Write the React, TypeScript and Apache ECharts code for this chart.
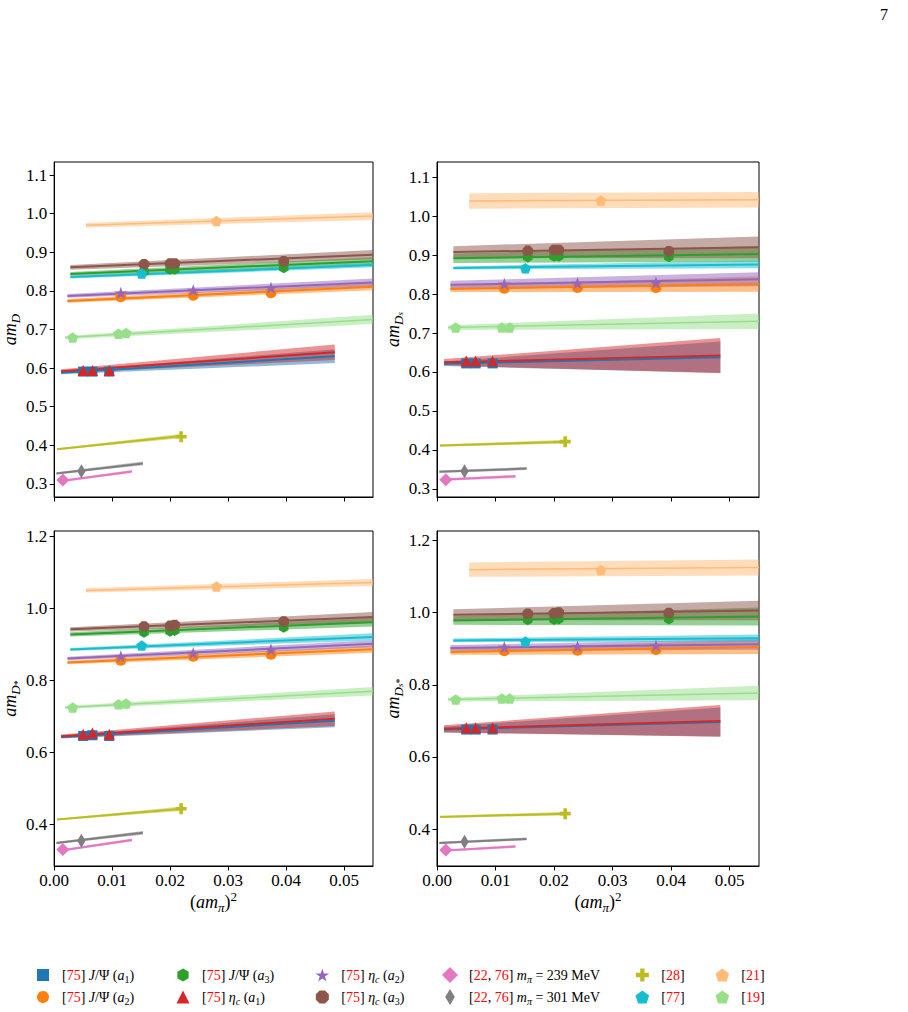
import React, { useEffect, useRef } from 'react';
import * as echarts from 'echarts';

const FONT = "'Liberation Serif', 'DejaVu Serif', serif";

// (a m_pi)^2 of the ensembles behind each data set
const X_A1 = [0.005, 0.0066, 0.0095];
const X_A2 = [0.0115, 0.024, 0.0374];
const X_A3 = [0.0155, 0.02, 0.0208, 0.0396];
const X_239 = [0.0015];
const X_301 = [0.0047];
const X_28 = [0.0219];
const X_77 = [0.0151];
const X_21 = [0.028];
const X_19 = [0.0032, 0.0111, 0.0124];

// data sets, in drawing order
const NAMES = [
  '[75] J/Ψ (a1)', '[75] J/Ψ (a2)', '[75] J/Ψ (a3)',
  '[75] ηc (a1)', '[75] ηc (a2)', '[75] ηc (a3)',
  '[22, 76] mπ = 239 MeV', '[22, 76] mπ = 301 MeV',
  '[28]', '[77]', '[21]', '[19]',
];
const LEGEND_TEXT = [
  '[{r|75}] {i|J}/Ψ ({i|a}{s|1})',
  '[{r|75}] {i|J}/Ψ ({i|a}{s|2})',
  '[{r|75}] {i|J}/Ψ ({i|a}{s|3})',
  '[{r|75}] {i|η}{si|c} ({i|a}{s|1})',
  '[{r|75}] {i|η}{si|c} ({i|a}{s|2})',
  '[{r|75}] {i|η}{si|c} ({i|a}{s|3})',
  '[{r|22}, {r|76}] {i|m}{si|π} = 239 MeV',
  '[{r|22}, {r|76}] {i|m}{si|π} = 301 MeV',
  '[{r|28}]', '[{r|77}]', '[{r|21}]', '[{r|19}]',
];
const COLORS = [
  '#1f77b4', '#ff7f0e', '#2ca02c', '#d62728', '#9467bd', '#8c564b',
  '#e377c2', '#7f7f7f', '#bcbd22', '#17becf', '#ffbb78', '#98df8a',
];
const POINT_X = [X_A1, X_A2, X_A3, X_A1, X_A2, X_A3, X_239, X_301, X_28, X_77, X_21, X_19];
// chiral-fit range in (a m_pi)^2
const FIT_RANGE = [
  [0.0012, 0.0484], [0.0023, 0.055], [0.0028, 0.055],
  [0.0012, 0.0484], [0.0023, 0.055], [0.0028, 0.055],
  [0.0015, 0.0134], [0.0004, 0.0153], [0.0005, 0.022],
  [0.0028, 0.055], [0.0055, 0.055], [0.0019, 0.055],
];

// fits: [value at start, value at end, error at start, error at end]
const MD_FIT = [
  [0.588, 0.631, 0.004, 0.018], [0.774, 0.811, 0.005, 0.009], [0.844, 0.877, 0.005, 0.01],
  [0.592, 0.641, 0.005, 0.02], [0.787, 0.822, 0.005, 0.01], [0.861, 0.894, 0.006, 0.012],
  [0.308, 0.332, 0.003, 0.004], [0.327, 0.353, 0.003, 0.005], [0.39, 0.424, 0.002, 0.006],
  [0.836, 0.867, 0.004, 0.006], [0.97, 0.994, 0.006, 0.01], [0.679, 0.726, 0.004, 0.012],
];
const MD_PTS = [
  [0.591, 0.591, 0.591], [0.785, 0.789, 0.795], [0.85, 0.856, 0.856, 0.86],
  [0.594, 0.594, 0.594], [0.795, 0.802, 0.808], [0.869, 0.871, 0.871, 0.877],
  [0.31], [0.333], [0.422], [0.845], [0.981], [0.679, 0.689, 0.691],
];

const MDS_FIT = [
  [0.621, 0.638, 0.006, 0.04], [0.813, 0.826, 0.008, 0.02], [0.892, 0.903, 0.012, 0.02],
  [0.625, 0.642, 0.008, 0.045], [0.824, 0.838, 0.01, 0.018], [0.908, 0.92, 0.015, 0.028],
  [0.324, 0.332, 0.003, 0.004], [0.344, 0.352, 0.003, 0.004], [0.411, 0.421, 0.003, 0.005],
  [0.867, 0.876, 0.004, 0.01], [1.039, 1.042, 0.02, 0.02], [0.714, 0.73, 0.006, 0.02],
];
const MDS_PTS = [
  [0.622, 0.622, 0.622], [0.815, 0.817, 0.817], [0.895, 0.897, 0.897, 0.896],
  [0.628, 0.628, 0.628], [0.826, 0.828, 0.829], [0.911, 0.913, 0.913, 0.91],
  [0.323], [0.345], [0.421], [0.866], [1.04], [0.714, 0.714, 0.714],
];

const MDST_FIT = [
  [0.643, 0.688, 0.004, 0.018], [0.85, 0.887, 0.005, 0.01], [0.928, 0.962, 0.006, 0.012],
  [0.645, 0.694, 0.005, 0.02], [0.861, 0.902, 0.005, 0.01], [0.942, 0.976, 0.006, 0.014],
  [0.329, 0.357, 0.003, 0.004], [0.349, 0.377, 0.003, 0.005], [0.414, 0.444, 0.002, 0.006],
  [0.886, 0.921, 0.004, 0.01], [1.05, 1.072, 0.006, 0.01], [0.725, 0.77, 0.004, 0.012],
];
const MDST_PTS = [
  [0.646, 0.648, 0.646], [0.856, 0.867, 0.873], [0.934, 0.937, 0.939, 0.948],
  [0.651, 0.654, 0.651], [0.867, 0.876, 0.886], [0.95, 0.952, 0.954, 0.964],
  [0.331], [0.355], [0.444], [0.897], [1.061], [0.725, 0.734, 0.736],
];

const MDSST_FIT = [
  [0.676, 0.697, 0.008, 0.04], [0.891, 0.905, 0.008, 0.02], [0.978, 0.989, 0.012, 0.025],
  [0.678, 0.7, 0.01, 0.044], [0.902, 0.912, 0.008, 0.015], [0.994, 1.006, 0.015, 0.027],
  [0.341, 0.352, 0.003, 0.004], [0.362, 0.373, 0.003, 0.004], [0.434, 0.443, 0.003, 0.005],
  [0.923, 0.929, 0.005, 0.01], [1.119, 1.125, 0.02, 0.022], [0.759, 0.777, 0.005, 0.02],
];
const MDSST_PTS = [
  [0.676, 0.676, 0.676], [0.894, 0.896, 0.898], [0.98, 0.981, 0.982, 0.982],
  [0.681, 0.681, 0.681], [0.904, 0.906, 0.908], [0.997, 0.998, 1.0, 0.999],
  [0.342], [0.365], [0.443], [0.92], [1.118], [0.759, 0.762, 0.762],
];

const X_TICKS = [0, 0.01, 0.02, 0.03, 0.04, 0.05];
const X_MAX = 0.055;
const Y_TICKS_TOP = [0.3, 0.4, 0.5, 0.6, 0.7, 0.8, 0.9, 1.0, 1.1];
const Y_TICKS_BOTTOM = [0.4, 0.6, 0.8, 1.0, 1.2];
const Y_RANGE_D = [0.266, 1.134];
const Y_RANGE_DS = [0.279, 1.139];
const Y_RANGE_DST = [0.285, 1.215];
const Y_RANGE_DSST = [0.298, 1.226];

// marker shapes
const SQUARE = 'path://M0,0L1,0L1,1L0,1Z';
const HEXAGON = 'path://M0,-1L0.866,-0.5L0.866,0.5L0,1L-0.866,0.5L-0.866,-0.5Z';
const TRIANGLE = 'path://M0,0L1,2L-1,2Z';
const STAR = 'path://M0,-1L0.2234,-0.3074L0.9511,-0.309L0.3614,0.1174L0.5878,0.809L0,0.38L-0.5878,0.809L-0.3614,0.1174L-0.9511,-0.309L-0.2234,-0.3074Z';
const OCTAGON = 'path://M0.3827,-0.9239L0.9239,-0.3827L0.9239,0.3827L0.3827,0.9239L-0.3827,0.9239L-0.9239,0.3827L-0.9239,-0.3827L-0.3827,-0.9239Z';
const DIAMOND = 'path://M0,-1L1,0L0,1L-1,0Z';
const THIN_DIAMOND = 'path://M0,-1L0.6,0L0,1L-0.6,0Z';
const PLUS = 'path://M-0.33,-1L0.33,-1L0.33,-0.33L1,-0.33L1,0.33L0.33,0.33L0.33,1L-0.33,1L-0.33,0.33L-1,0.33L-1,-0.33L-0.33,-0.33Z';
const PENTAGON = 'path://M0,-1L0.9511,-0.309L0.5878,0.809L-0.5878,0.809L-0.9511,-0.309Z';

const SYMBOLS = [SQUARE, 'circle', HEXAGON, TRIANGLE, STAR, OCTAGON, DIAMOND, THIN_DIAMOND, PLUS, PENTAGON, PENTAGON, PENTAGON];
const SIZES = [10, 11, 11, 11, 13, 10.5, 13, 14, 11, 11, 11, 11];
const LINE_W = [2, 2, 2, 2, 2, 2, 2, 2, 2, 2, 1.5, 1.5];

const LEGEND_COLUMNS = [[0, 1], [2, 3], [4, 5], [6, 7], [8, 9], [10, 11]];
// marker centres of the legend columns
const LEGEND_X = [43, 183, 322, 450, 642, 722];
const LEGEND_ICON_H = [12, 13, 13, 16, 13, 13];

const PANELS = [
  { box: [51, 162, 322, 335], yRange: Y_RANGE_D, yTicks: Y_TICKS_TOP, fit: MD_FIT, pts: MD_PTS, yName: '{a|am}{s|D}', gap: 27, xLabels: false },
  { box: [437, 162, 322, 335], yRange: Y_RANGE_DS, yTicks: Y_TICKS_TOP, fit: MDS_FIT, pts: MDS_PTS, yName: '{a|am}{s|D}{ss|s}', gap: 29, xLabels: false },
  { box: [51, 531, 322, 335], yRange: Y_RANGE_DST, yTicks: Y_TICKS_BOTTOM, fit: MDST_FIT, pts: MDST_PTS, yName: '{a|am}{s|D}{st|*}', gap: 27, xLabels: true },
  { box: [437, 531, 322, 335], yRange: Y_RANGE_DSST, yTicks: Y_TICKS_BOTTOM, fit: MDSST_FIT, pts: MDSST_PTS, yName: '{a|am}{s|D}{ss|s}{st|*}', gap: 29, xLabels: true },
];

function rgba(hex: string, a: number) {
  const n = parseInt(hex.slice(1), 16);
  return `rgba(${(n >> 16) & 255},${(n >> 8) & 255},${n & 255},${a})`;
}

const Y_NAME_RICH = {
  a: { fontFamily: FONT, fontSize: 18, fontStyle: 'italic', lineHeight: 24, color: '#000' },
  s: { fontFamily: FONT, fontSize: 13, fontStyle: 'italic', lineHeight: 13, verticalAlign: 'bottom', color: '#000' },
  ss: { fontFamily: FONT, fontSize: 9, fontStyle: 'italic', lineHeight: 7, verticalAlign: 'bottom', color: '#000' },
  st: { fontFamily: FONT, fontSize: 10, fontStyle: 'normal', lineHeight: 18, verticalAlign: 'bottom', color: '#000' },
};
const X_NAME_RICH = {
  p: { fontFamily: FONT, fontSize: 18, fontStyle: 'normal', lineHeight: 24, color: '#000' },
  a: { fontFamily: FONT, fontSize: 18, fontStyle: 'italic', lineHeight: 24, color: '#000' },
  s: { fontFamily: FONT, fontSize: 13, fontStyle: 'italic', lineHeight: 13, verticalAlign: 'bottom', color: '#000' },
  sup: { fontFamily: FONT, fontSize: 13, fontStyle: 'normal', lineHeight: 13, verticalAlign: 'top', color: '#000' },
};
const LEGEND_RICH = {
  r: { fontFamily: FONT, fontSize: 14, lineHeight: 18, color: '#ff0000' },
  i: { fontFamily: FONT, fontSize: 14, lineHeight: 18, fontStyle: 'italic', color: '#000' },
  s: { fontFamily: FONT, fontSize: 10, lineHeight: 10, verticalAlign: 'bottom', color: '#000' },
  si: { fontFamily: FONT, fontSize: 10, lineHeight: 10, verticalAlign: 'bottom', fontStyle: 'italic', color: '#000' },
};

function buildOption() {
  const grid: any[] = [];
  const xAxis: any[] = [];
  const yAxis: any[] = [];
  const series: any[] = [];

  PANELS.forEach((p, g) => {
    grid.push({
      left: p.box[0], top: p.box[1], width: p.box[2], height: p.box[3],
      show: true, borderColor: '#000', borderWidth: 1, backgroundColor: 'transparent',
    });
    xAxis.push({
      type: 'value', gridIndex: g, min: 0, max: X_MAX,
      axisLine: { show: true, onZero: false, lineStyle: { color: '#000', width: 1 } },
      axisTick: { show: true, length: 4.5, customValues: X_TICKS, lineStyle: { color: '#000', width: 1 } },
      axisLabel: {
        show: p.xLabels, customValues: X_TICKS, margin: 6,
        formatter: (v: number) => v.toFixed(2),
        color: '#000', fontFamily: FONT, fontSize: 17,
      },
      splitLine: { show: false },
      name: p.xLabels ? '{p|(}{a|am}{s|π}{p|)}{sup|2}' : '',
      nameLocation: 'middle', nameGap: 24,
      nameTextStyle: { rich: X_NAME_RICH },
    });
    yAxis.push({
      type: 'value', gridIndex: g, min: p.yRange[0], max: p.yRange[1],
      axisLine: { show: true, onZero: false, lineStyle: { color: '#000', width: 1 } },
      axisTick: { show: true, length: 4.5, customValues: p.yTicks, lineStyle: { color: '#000', width: 1 } },
      axisLabel: {
        customValues: p.yTicks, margin: 7,
        formatter: (v: number) => v.toFixed(1),
        color: '#000', fontFamily: FONT, fontSize: 17,
      },
      splitLine: { show: false },
      name: p.yName, nameLocation: 'middle', nameRotate: 90, nameGap: p.gap,
      nameTextStyle: { rich: Y_NAME_RICH },
    });

    // error bands of the fits
    series.push({
      type: 'custom', xAxisIndex: g, yAxisIndex: g, z: 1, silent: true,
      encode: { x: [0, 1], y: [2, 3, 4, 5] },
      data: p.fit.map((f, i) => [
        FIT_RANGE[i][0], FIT_RANGE[i][1],
        f[0] - f[2], f[0] + f[2], f[1] - f[3], f[1] + f[3], i,
      ]),
      renderItem: (_params: any, api: any) => {
        const x0 = api.value(0), x1 = api.value(1);
        const i = api.value(6);
        const points = [
          api.coord([x0, api.value(2)]), api.coord([x1, api.value(4)]),
          api.coord([x1, api.value(5)]), api.coord([x0, api.value(3)]),
        ];
        return { type: 'polygon', shape: { points }, style: { fill: rgba(COLORS[i], 0.5) } };
      },
    });

    // central fit lines
    p.fit.forEach((f, i) => {
      series.push({
        type: 'line', name: NAMES[i] + ' fit', xAxisIndex: g, yAxisIndex: g, z: 2, silent: true,
        symbol: 'none', data: [[FIT_RANGE[i][0], f[0]], [FIT_RANGE[i][1], f[1]]],
        lineStyle: { color: COLORS[i], width: LINE_W[i] }, itemStyle: { color: COLORS[i] },
      });
    });

    // lattice data
    p.pts.forEach((vals, i) => {
      series.push({
        type: 'scatter', name: NAMES[i], xAxisIndex: g, yAxisIndex: g, z: 3, silent: true,
        symbol: SYMBOLS[i], symbolSize: SIZES[i], symbolKeepAspect: true,
        itemStyle: { color: COLORS[i], opacity: 1 },
        data: vals.map((v, j) => [POINT_X[i][j], v]),
      });
    });
  });

  const legend = LEGEND_COLUMNS.map((col, c) => ({
    orient: 'vertical', left: LEGEND_X[c] - LEGEND_ICON_H[c] / 2, top: 966, padding: 0,
    itemGap: 4, itemWidth: 28, itemHeight: LEGEND_ICON_H[c],
    symbolKeepAspect: true, selectedMode: false,
    data: col.map((i) => NAMES[i]),
    formatter: (name: string) => LEGEND_TEXT[NAMES.indexOf(name)],
    textStyle: { fontFamily: FONT, fontSize: 14, lineHeight: 18, color: '#000', rich: LEGEND_RICH },
  }));

  return {
    animation: false,
    backgroundColor: '#fff',
    textStyle: { fontFamily: FONT },
    grid, xAxis, yAxis, series, legend,
    graphic: [
      { type: 'text', left: 880, top: 6, style: { text: '7', font: `16px ${FONT}`, fill: '#000' } },
    ],
  };
}

export default function App() {
  const ref = useRef<HTMLDivElement>(null);
  useEffect(() => {
    const chart = echarts.init(ref.current!, null, { renderer: 'svg' });
    chart.setOption(buildOption() as any);
    return () => chart.dispose();
  }, []);
  return <div ref={ref} style={{ position: 'absolute', left: 0, top: 0, width: 908, height: 1012 }} />;
}
